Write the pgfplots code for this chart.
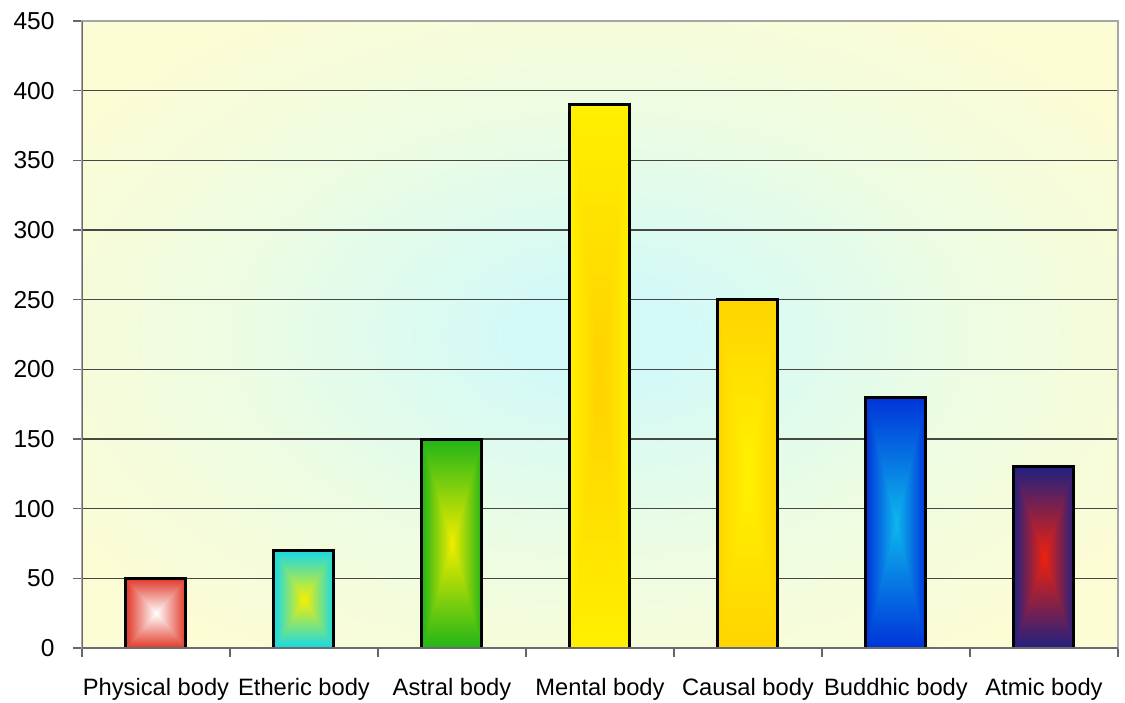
\documentclass[border=0pt]{standalone}
\usepackage{pgfplots}
\pgfplotsset{compat=1.18}
\usepackage{fontspec}
\setmainfont{Liberation Sans}

\definecolor{bgc}{HTML}{D3FAF8}
\definecolor{bgm}{HTML}{EDFCE2}
\definecolor{bge}{HTML}{FCFCD5}
\pgfdeclareradialshading{bgshade}{\pgfpoint{0bp}{0bp}}{color(0bp)=(bgc); color(4bp)=(bgc); color(18bp)=(bgm); color(30bp)=(bge); color(50bp)=(bge)}

% rectangular (pyramid) gradient: name, centre rgb, edge rgb
\newcommand\barshade[7]{\pgfdeclarefunctionalshading{#1}{\pgfpoint{-50bp}{-50bp}}{\pgfpoint{50bp}{50bp}}{}{abs exch abs 2 copy sub abs add add 50 div dup #5 #2 sub mul #2 add exch dup #6 #3 sub mul #3 add exch #7 #4 sub mul #4 add}}
\barshade{shPhys}{1 }{1 }{1 }{0.88 }{0.22 }{0.16 }
\barshade{shEth}{0.97 }{0.94 }{0.0 }{0.08 }{0.85 }{0.91 }
\barshade{shAst}{0.95 }{0.93 }{0.0 }{0.13 }{0.71 }{0.09 }
\barshade{shMen}{1.0 }{0.82 }{0.0 }{1.0 }{0.94 }{0.0 }
\barshade{shCau}{1.0 }{0.95 }{0.0 }{1.0 }{0.83 }{0.0 }
\barshade{shBud}{0.05 }{0.72 }{0.93 }{0.0 }{0.2 }{0.85 }
\barshade{shAtm}{0.94 }{0.13 }{0.05 }{0.13 }{0.13 }{0.5 }

\begin{document}
\begin{tikzpicture}
\useasboundingbox (0,0) rectangle (1125pt,702pt);
\begin{axis}[
  at={(82pt,54pt)}, anchor=south west,
  scale only axis, width=1036pt, height=627pt,
  xmin=-0.5, xmax=6.5, ymin=0, ymax=450,
  ytick={0,50,...,450},
  xtick={-0.5,0.5,...,6.5}, xticklabels={},
  extra x ticks={0,1,2,3,4,5,6},
  extra x tick labels={Physical body,Etheric body,Astral body,Mental body,Causal body,Buddhic body,Atmic body},
  extra x tick style={major tick length=0pt},
  tick align=outside, xtick pos=bottom, ytick pos=left,
  major tick length=9pt,
  ymajorgrids,
  grid style={draw=black!72, line width=1.3pt},
  axis line style={draw=black!35, line width=1.6pt},
  tick style={draw=black!60, line width=1.5pt},
  /pgf/number format/assume math mode=true,
  yticklabel style={font=\fontsize{24.5}{26}\selectfont, xshift=-15pt},
  xticklabel style={font=\fontsize{23.7}{26}\selectfont, yshift=-27pt},
  axis background/.style={shading=bgshade},
  every axis plot/.append style={ybar, bar width=60pt, bar shift=0pt},
]
\addplot[draw=none, shading=shPhys] coordinates {(0,50)};
\addplot[draw=none, shading=shEth] coordinates {(1,70)};
\addplot[draw=none, shading=shAst] coordinates {(2,150)};
\addplot[draw=none, shading=shMen] coordinates {(3,390)};
\addplot[draw=none, shading=shCau] coordinates {(4,250)};
\addplot[draw=none, shading=shBud] coordinates {(5,180)};
\addplot[draw=none, shading=shAtm] coordinates {(6,130)};
% outlines of the same bars
\addplot[fill=none, draw=black, line width=3pt] coordinates {(0,50) (1,70) (2,150) (3,390) (4,250) (5,180) (6,130)};
\draw[black!58, line width=2.2pt] (rel axis cs:0,1) -- (rel axis cs:0,0) -- (rel axis cs:1,0);
\end{axis}
\end{tikzpicture}
\end{document}
